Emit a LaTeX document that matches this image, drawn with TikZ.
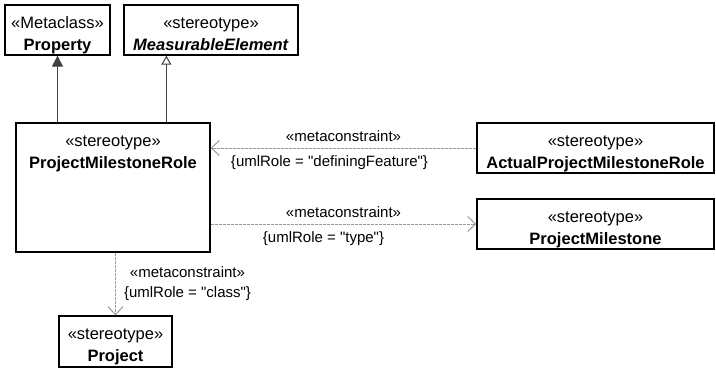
\documentclass[tikz,border=0pt]{standalone}
\usepackage{fontspec}
\setmainfont{Liberation Sans}
\usetikzlibrary{arrows.meta,positioning}
\definecolor{umlline}{HTML}{404040}
\definecolor{umldash}{HTML}{9A9A9A}

\tikzset{
  classbox/.style={draw=black,line width=1.3pt,align=center,inner sep=0pt,
    font=\fontsize{16.5}{22}\selectfont,text height=40pt,text depth=0pt},
  classtext/.style={align=center,inner sep=0pt,font=\fontsize{16.5}{22}\selectfont},
  generalize/.style={draw=umlline,line width=1pt,-{Triangle[length=11pt,width=11pt]}},
  realize/.style={draw=umlline,line width=1pt,-{Triangle[open,length=9pt,width=10pt,fill=white]}},
  metalink/.style={draw=umldash,line width=1pt,dash pattern=on 3pt off 1pt,
    -{Straight Barb[length=8pt,width=15pt]}},
  metalabel/.style={font=\fontsize{15}{20}\selectfont,inner sep=2pt}
}
\newcommand{\qt}{\textquotedbl}

\begin{document}
\begin{tikzpicture}[x=1pt,y=-1pt]
    \useasboundingbox (0,0) rectangle (716,368);
    % metaclass and abstract stereotype on top
    \node[classbox,minimum width=105pt,minimum height=50pt] (property) at (57.5,30)
      {«Metaclass»\\\textbf{Property}};
    \node[classbox,minimum width=174pt,minimum height=50pt] (measurable) at (211,30)
      {«stereotype»\\\textbf{\itshape MeasurableElement}};
    \coordinate (measfoot) at ([xshift=43pt]measurable.south west);
    % the role stereotype
    \node[classbox,minimum width=194pt,minimum height=129pt] (pmrole) at (113,187.5) {};
    \node[classtext,anchor=north] (pmrole-name) at ([yshift=-13pt]pmrole.north)
      {«stereotype»\\\textbf{ProjectMilestoneRole}};
    % right column
    \node[classbox,minimum width=237pt,minimum height=50pt] (actual) at (595.5,148)
      {«stereotype»\\\textbf{ActualProjectMilestoneRole}};
    \node[classbox,minimum width=237pt,minimum height=50pt] (milestone) at (595.5,224)
      {«stereotype»\\\textbf{ProjectMilestone}};
    \node[classbox,minimum width=113pt,minimum height=51pt] (project) at (115.5,341.5)
      {«stereotype»\\\textbf{Project}};

    \draw[generalize] (pmrole.north -| property.south) -- (property.south);
    \draw[realize] (pmrole.north -| measfoot) -- (measfoot);

    \draw[metalink] (actual.west) -- (actual.west -| pmrole.east)
      node[midway,above,metalabel,yshift=4pt] (lbl-def-a) {«metaconstraint»}
      node[midway,below,metalabel,xshift=-14pt,yshift=-5pt] (lbl-def-b) {\{umlRole = \qt definingFeature\qt\}};
    \draw[metalink] (milestone.west -| pmrole.east) -- (milestone.west)
      node[midway,above,metalabel,yshift=4pt] (lbl-type-a) {«metaconstraint»}
      node[midway,below,metalabel,xshift=-20pt,yshift=-5pt] (lbl-type-b) {\{umlRole = \qt type\qt\}};
    \draw[metalink] (pmrole.south -| project.north) -- (project.north)
      node[midway,right,metalabel,align=center,xshift=6pt] (lbl-class)
        {«metaconstraint»\\\{umlRole = \qt class\qt\}};
  \end{tikzpicture}
\end{document}
